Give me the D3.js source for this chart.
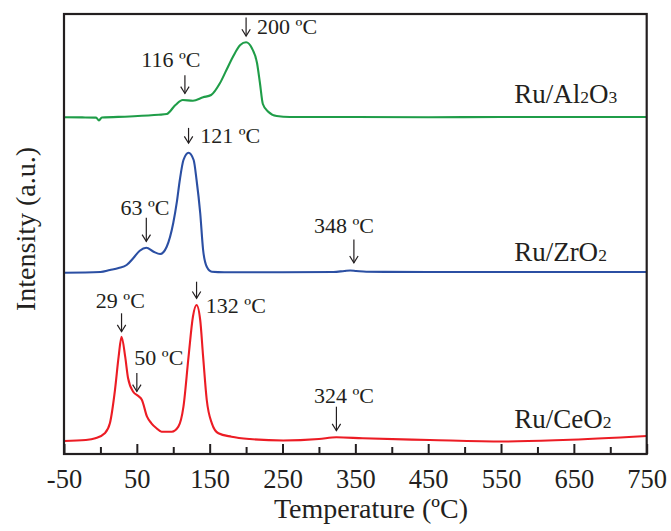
<!DOCTYPE html>
<html>
<head>
<meta charset="utf-8">
<script src="https://cdn.jsdelivr.net/npm/d3@7"></script>
<style>
  html, body { margin: 0; padding: 0; background: #fff; }
  svg { display: block; }
  text { font-family: "Liberation Serif", "Times New Roman", serif; fill: #231f20; }
</style>
</head>
<body>
<svg id="chart" width="671" height="531"></svg>
<script>
// TPR profiles: temperature (ºC) and detector intensity (a.u., traces offset vertically)
const al2o3Temp = [-50, -25, -6, -2, 2, 40, 80, 91, 103, 113, 127, 141, 152, 164, 173, 182, 192, 200, 208, 215, 219, 223, 230, 242, 260, 350, 450, 550, 650, 750];
const al2o3Int  = [336.7, 336.6, 336.4, 333.6, 336.5, 337.5, 339.2, 340, 349, 354, 353.3, 356.7, 359, 370.7, 384, 397.3, 409, 411.7, 405.7, 391, 371, 350, 342.5, 338, 337, 337, 336.8, 337, 337, 337];

const zro2Temp = [-50, 0, 13, 25, 36, 45, 54, 63, 73, 82, 91, 100, 105, 109, 114, 121, 128, 132, 137, 141, 146, 153, 170, 250, 320, 335, 343, 351, 365, 450, 550, 650, 750];
const zro2Int  = [181.3, 182, 184, 186, 189, 195.7, 203.3, 206.3, 202.3, 200, 207.3, 231, 252.3, 274, 294, 301.3, 294, 274, 241, 204, 187.3, 182.3, 181.8, 181.8, 182, 183, 183.5, 183, 182.2, 182, 182, 182, 182];

const ceo2Temp = [-50, -20, -7, 6, 13, 20, 25, 29, 34, 38, 45, 52, 57, 64, 70, 77, 84, 98, 107, 114, 121, 127, 132, 137, 141, 146, 153, 162, 180, 205, 251, 300, 324, 360, 452, 553, 635, 750];
const ceo2Int  = [13, 14, 15.7, 20.7, 30.7, 64, 97.3, 117.3, 97.3, 75.7, 62.3, 58, 54, 37.3, 30.7, 25.7, 22.3, 22.3, 27.3, 47.3, 97.3, 137.3, 149, 134, 97.3, 54, 30.7, 20.7, 17.3, 15, 13.5, 15, 16.7, 15.7, 14, 12.5, 14, 18];

const seriesNames  = ["Ru/Al2O3", "Ru/ZrO2", "Ru/CeO2"];
const seriesColors = ["#1f9d48", "#2b4fa3", "#ec1c24"];

// x axis ticks
const labelTicks = [-50, 50, 150, 250, 350, 450, 550, 650, 750];
const minorTicks = [0, 100, 200, 300, 400, 500, 600, 700];

// peak temperatures marked with arrows (series index per peak)
const peakTemps  = [116, 200, 63, 121, 348, 29, 50, 132, 324];
const peakSeries = [0, 0, 1, 1, 1, 2, 2, 2, 2];

// arrow/label placement for each peak marker
const peakLayout = {
  116: { gap: 6.7, len: 18.3, anchor: "middle", dx: -14,  dy: -7.7 },
  200: { gap: 6.3, len: 18.4, anchor: "start",  dx: 11,   dy: 16.7 },
  63:  { gap: 6.3, len: 23.7, anchor: "middle", dx: -1.3, dy: -3 },
  121: { gap: 9.5, len: 15.3, anchor: "start",  dx: 11.7, dy: 14.7 },
  348: { gap: 8,   len: 23.3, anchor: "middle", dx: -10,  dy: -6.7 },
  29:  { gap: 5,   len: 18.4, anchor: "middle", dx: -1.2, dy: -5 },
  50:  { gap: 3.3, len: 18.4, anchor: "middle", dx: 22,   dy: -8.3 },
  132: { gap: 6.7, len: 16.6, anchor: "start",  dx: 9.3,  dy: 31.6 },
  324: { gap: 6.6, len: 24,   anchor: "middle", dx: 7.6,  dy: -4 }
};

const W = 671, H = 531;
const margin = { left: 64, right: 24.3, top: 14, bottom: 77 };
const ink = "#231f20";

const svg = d3.select("#chart");

const x = d3.scaleLinear().domain([-50, 750]).range([margin.left, W - margin.right]);
const y = d3.scaleLinear().domain([0, 440]).range([H - margin.bottom, margin.top]);

const series = [
  { temp: al2o3Temp, inten: al2o3Int },
  { temp: zro2Temp,  inten: zro2Int },
  { temp: ceo2Temp,  inten: ceo2Int }
].map((s, i) => ({
  name: seriesNames[i],
  color: seriesColors[i],
  points: s.temp.map((t, k) => ({ t, v: s.inten[k] }))
}));

const line = d3.line()
  .x(d => x(d.t))
  .y(d => y(d.v))
  .curve(d3.curveMonotoneX);

// traces
svg.append("g")
  .selectAll("path")
  .data(series)
  .join("path")
  .attr("d", d => line(d.points))
  .attr("fill", "none")
  .attr("stroke", d => d.color)
  .attr("stroke-width", 2.1)
  .attr("stroke-linejoin", "round");

// linear lookup of a trace's intensity at temperature t
function valueAt(points, t) {
  const i = d3.bisector(d => d.t).left(points, t);
  if (i <= 0) return points[0].v;
  if (i >= points.length) return points[points.length - 1].v;
  const a = points[i - 1], b = points[i];
  return a.v + (b.v - a.v) * (t - a.t) / (b.t - a.t);
}

// peak arrows and labels
const ann = svg.append("g");
peakTemps.forEach((t, i) => {
  const lay = peakLayout[t];
  const px = x(t);
  const tip = y(valueAt(series[peakSeries[i]].points, t)) - lay.gap;
  const top = tip - lay.len;
  ann.append("line")
    .attr("x1", px).attr("x2", px).attr("y1", top).attr("y2", tip)
    .attr("stroke", ink).attr("stroke-width", 1.2);
  ann.append("path")
    .attr("d", `M${px - 4.2},${tip - 6.8}L${px},${tip}L${px + 4.2},${tip - 6.8}`)
    .attr("fill", "none").attr("stroke", ink).attr("stroke-width", 1.2);
  ann.append("text")
    .attr("x", px + lay.dx)
    .attr("y", top + lay.dy)
    .attr("text-anchor", lay.anchor)
    .attr("font-size", 22)
    .text(`${t} \u00baC`);
});

// series labels with subscripted digits
const labelT = 568;
const labelLift = [14.5, 11.5, 13.5];
series.forEach((s, i) => {
  const txt = svg.append("text")
    .attr("x", x(labelT))
    .attr("y", y(valueAt(s.points, labelT)) - labelLift[i])
    .attr("font-size", 27);
  s.name.split(/(\d)/).filter(p => p.length).forEach(part => {
    const ts = txt.append("tspan").text(part);
    if (/^\d$/.test(part)) ts.attr("font-size", 17.5);
  });
});

// bottom axis: labelled (longer) ticks and plain (shorter) ticks, pointing inward
const axisY = H - margin.bottom;
const major = svg.append("g")
  .attr("transform", `translate(0,${axisY})`)
  .call(d3.axisBottom(x).tickValues(labelTicks).tickSize(-10).tickFormat(d => String(d)));
major.select(".domain").remove();
major.selectAll(".tick line").attr("stroke", ink).attr("stroke-width", 2);
major.selectAll(".tick text")
  .attr("y", 34.3).attr("dy", 0)
  .attr("font-size", 26.5)
  .attr("font-family", "Liberation Serif, Times New Roman, serif")
  .attr("fill", ink);

const minor = svg.append("g")
  .attr("transform", `translate(0,${axisY})`)
  .call(d3.axisBottom(x).tickValues(minorTicks).tickSize(-7).tickFormat(""));
minor.select(".domain").remove();
minor.selectAll(".tick line").attr("stroke", ink).attr("stroke-width", 2);

// plot frame
svg.append("rect")
  .attr("x", x(-50)).attr("y", y(440))
  .attr("width", x(750) - x(-50)).attr("height", y(0) - y(440))
  .attr("fill", "none").attr("stroke", ink).attr("stroke-width", 2.2);

// axis titles
svg.append("text")
  .attr("x", 371).attr("y", 518.3)
  .attr("text-anchor", "middle")
  .attr("font-size", 28)
  .text("Temperature (\u00baC)");

svg.append("text")
  .attr("transform", "translate(35,229) rotate(-90)")
  .attr("text-anchor", "middle")
  .attr("font-size", 28)
  .text("Intensity (a.u.)");
</script>
</body>
</html>
